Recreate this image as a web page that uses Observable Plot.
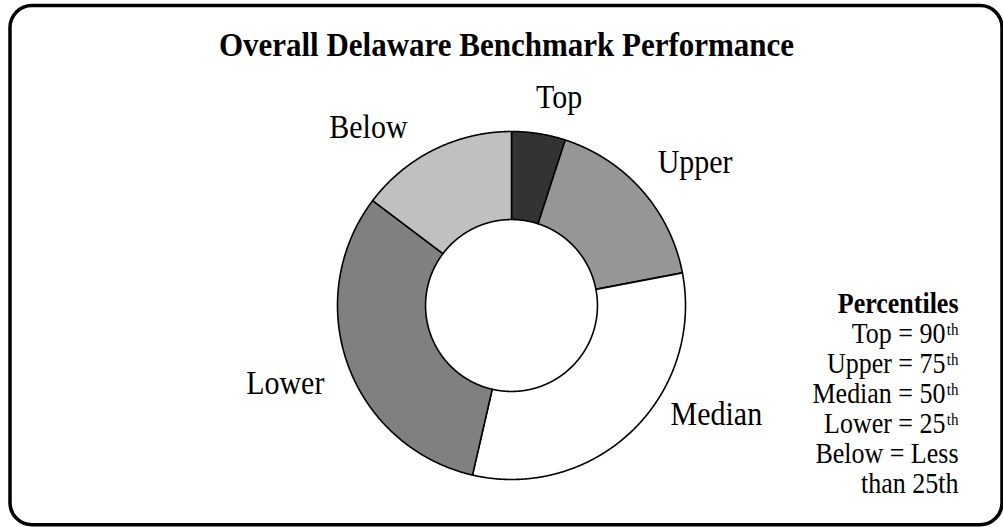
<!DOCTYPE html>
<html><head><meta charset="utf-8">
<script src="https://cdn.jsdelivr.net/npm/d3@7"></script>
<script src="https://cdn.jsdelivr.net/npm/@observablehq/plot@0.6"></script>
<style>html,body{margin:0;padding:0;background:#fff;} #chart svg{display:block;}</style>
</head><body><div id="chart"></div>
<script>
// ---- data ----
const title = "Overall Delaware Benchmark Performance";
const categories = ["Top", "Upper", "Median", "Lower", "Below"];
const shares = [5.0, 17.0, 31.6, 31.7, 14.7];
const legendTitle = "Percentiles";
const legendLines = ["Top = 90", "Upper = 75", "Median = 50", "Lower = 25", "Below = Less", "than 25th"];
const legendSup = ["th", "th", "th", "th", "", ""];

// ---- styles / layout ----
const sliceColors = ["#333333", "#969696", "#ffffff", "#808080", "#c0c0c0"];
const W = 1003, H = 527, cx = 511, cy = 305, R = 174, innerRatio = 0.494;
const serif = "'Liberation Serif','Times New Roman',serif";
const labelNudge = {Top: [15, 9], Upper: [27, 6], Median: [60, -31], Lower: [-30, 17], Below: [-50, 19]};

const pie = d3.pie().sort(null).value(d => d.value)(categories.map((c, i) => ({key: c, value: shares[i]})));
const ringPts = [];
for (const s of pie) {
  const span = s.endAngle - s.startAngle;
  const n = Math.max(8, Math.ceil(span / (Math.PI / 720)));
  for (let k = 0; k <= n; k++) {
    const a = s.startAngle + span * k / n;
    ringPts.push({key: s.data.key, x: Math.sin(a), y: Math.cos(a)});
  }
  for (let k = n; k >= 0; k--) {
    const a = s.startAngle + span * k / n;
    ringPts.push({key: s.data.key, x: innerRatio * Math.sin(a), y: innerRatio * Math.cos(a)});
  }
}
const mid = s => (s.startAngle + s.endAngle) / 2;

const marks = [
  Plot.frame({rx: 22, ry: 22, stroke: "black", strokeWidth: 3.5, fill: "none",
    insetLeft: 9.5, insetTop: 5, insetRight: 1.5, insetBottom: 2.7}),
  Plot.line(ringPts, {x: "x", y: "y", z: "key", fill: "key", stroke: "black", strokeWidth: 1.6,
    curve: "linear-closed", strokeLinejoin: "round"}),
  ...pie.map(s => Plot.text([s], {
    x: d => 1.2 * Math.sin(mid(d)), y: d => 1.2 * Math.cos(mid(d)), text: d => d.data.key,
    dx: labelNudge[s.data.key][0], dy: labelNudge[s.data.key][1],
    fontSize: 30, fontFamily: serif, fill: "black", textAnchor: "middle", lineAnchor: "bottom"
  })),
  Plot.text([title], {frameAnchor: "top", text: d => d, dx: 4.5, dy: 55, lineAnchor: "bottom",
    fontSize: 31, fontWeight: "bold", fontFamily: serif, fill: "black"}),
  Plot.text([legendTitle], {frameAnchor: "top-right", text: d => d, dx: -45, dy: 312, textAnchor: "end",
    lineAnchor: "bottom", fontSize: 26, fontWeight: "bold", fontFamily: serif, fill: "black"}),
  ...legendLines.map((t, i) => Plot.text([t], {frameAnchor: "top-right", text: d => d,
    dx: legendSup[i] ? -58 : -45, dy: 342 + 30 * i, textAnchor: "end", lineAnchor: "bottom",
    fontSize: 26, fontFamily: serif, fill: "black"})),
  ...legendLines.map((t, i) => legendSup[i] ? Plot.text([legendSup[i]], {frameAnchor: "top-right", text: d => d,
    dx: -45, dy: 342 + 30 * i - 8, textAnchor: "end", lineAnchor: "bottom",
    fontSize: 15, fontFamily: serif, fill: "black"}) : null).filter(Boolean)
];

const chart = Plot.plot({
  width: W, height: H, margin: 0,
  style: {background: "white", overflow: "visible"},
  x: {domain: [-1, 1], range: [cx - R, cx + R], axis: null},
  y: {domain: [-1, 1], range: [cy + R, cy - R], axis: null},
  color: {domain: categories, range: sliceColors},
  marks
});

// the reference type is drawn taller than its width: stretch each text vertically about its baseline
chart.querySelectorAll("text").forEach(t => {
  const g = t.closest("[font-size]");
  const fs = parseFloat(g ? g.getAttribute("font-size") : 26);
  const k = fs >= 31 ? 1.06 : 1.15;
  let tr = t.getAttribute("transform");
  if (!tr) {
    const x = +t.getAttribute("x") || 0, y = +t.getAttribute("y") || 0;
    t.removeAttribute("x"); t.removeAttribute("y");
    tr = `translate(${x},${y})`;
  }
  t.setAttribute("transform", `${tr} scale(1,${k})`);
});
document.getElementById("chart").appendChild(chart);
</script>
</body></html>
